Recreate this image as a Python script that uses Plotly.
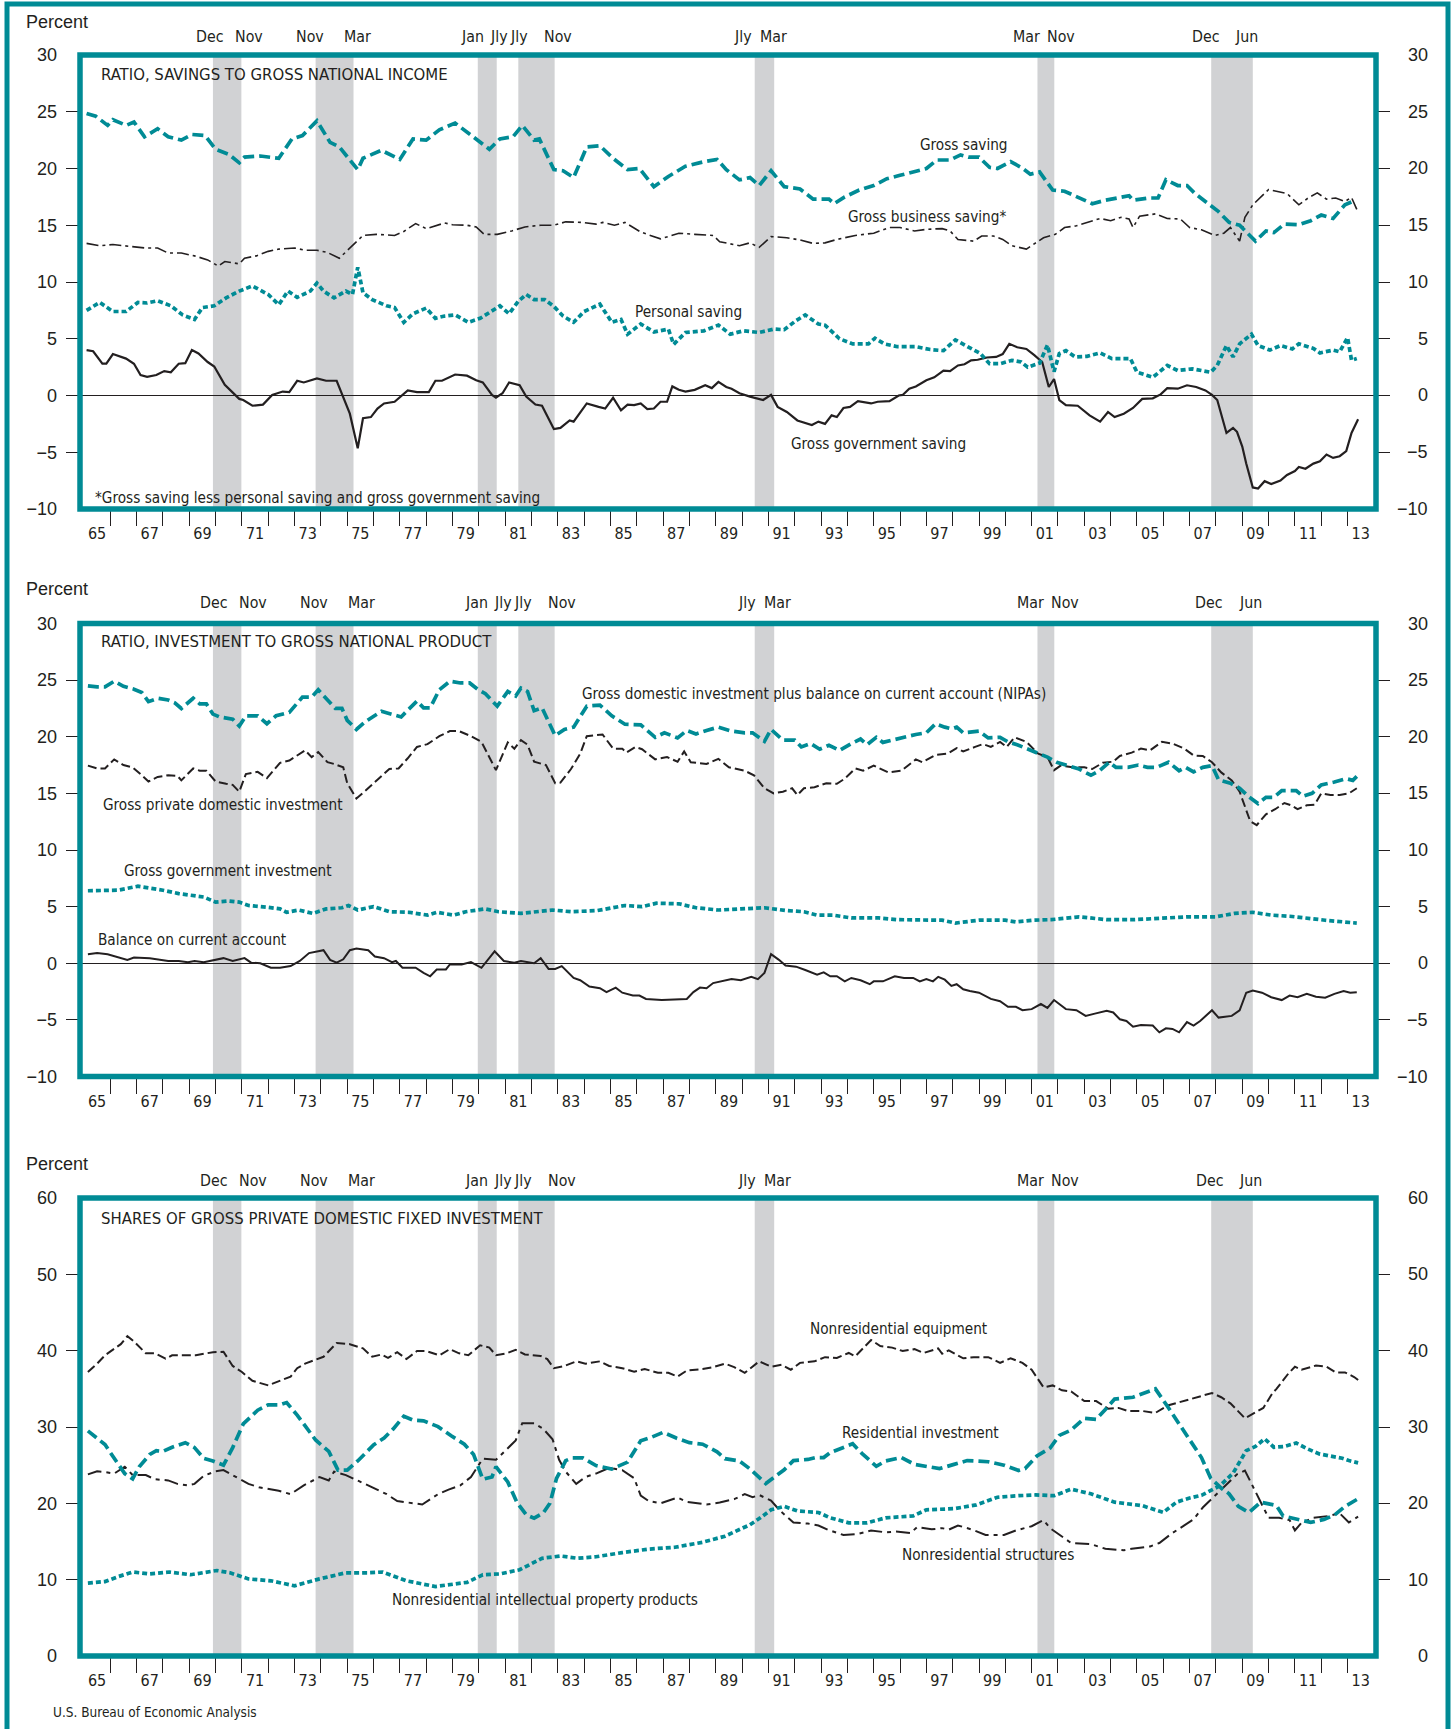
import plotly.graph_objects as go

W, H = 1453, 1729
TEAL = "#008B95"
GRAY = "#D1D2D4"
TXT = "#231F20"
NARROW = "Liberation Sans Narrow, Arial Narrow, DejaVu Sans Condensed, sans-serif"
REG = "Liberation Sans, Arial, sans-serif"

# ---------------- data (decimal year, percent) ----------------
recessions = [(1969.9, 1970.98), (1973.8, 1975.24), (1979.96, 1980.68), (1981.5, 1982.88),
              (1990.48, 1991.22), (2001.22, 2001.86), (2007.82, 2009.4)]
month_labels = [("Dec", 1969.79), ("Nov", 1971.27), ("Nov", 1973.60), ("Mar", 1975.39),
                ("Jan", 1979.77), ("Jly", 1980.76), ("Jly", 1981.54), ("Nov", 1983.02),
                ("Jly", 1990.05), ("Mar", 1991.21), ("Mar", 2000.81), ("Nov", 2002.13),
                ("Dec", 2007.61), ("Jun", 2009.17)]
year_labels = ["65", "67", "69", "71", "73", "75", "77", "79", "81", "83", "85", "87", "89",
               "91", "93", "95", "97", "99", "01", "03", "05", "07", "09", "11", "13"]

gross_saving = [(1965.1,24.85),(1965.45,24.6),(1965.9,23.8),(1966.1,24.3),(1966.6,23.8),(1966.9,24.1),(1967.3,22.8),(1967.8,23.5),(1968.2,22.8),(1968.7,22.5),(1969.1,23.0),(1969.6,22.9),(1970.0,21.7),(1970.5,21.25),(1970.9,20.5),(1971.1,21.0),(1971.7,21.1),(1972.4,20.9),(1972.9,22.6),(1973.3,22.9),(1973.85,24.2),(1974.35,22.3),(1974.7,21.9),(1975.4,19.9),(1975.6,20.9),(1976.3,21.6),(1977.0,20.8),(1977.5,22.6),(1978.0,22.5),(1978.5,23.4),(1979.1,24.0),(1979.7,22.9),(1980.4,21.7),(1980.8,22.6),(1981.3,22.8),(1981.65,23.8),(1982.1,22.5),(1982.3,22.6),(1982.85,19.9),(1983.2,19.8),(1983.6,19.2),(1984.1,21.9),(1984.6,22.0),(1985.1,20.9),(1985.65,19.9),(1986.1,20.0),(1986.65,18.4),(1987.2,19.3),(1987.85,20.2),(1988.55,20.6),(1989.05,20.8),(1989.4,19.9),(1989.9,19.0),(1990.3,19.2),(1990.65,18.5),(1991.1,19.8),(1991.6,18.4),(1992.2,18.2),(1992.7,17.3),(1993.3,17.3),(1993.5,16.9),(1993.9,17.5),(1994.45,18.1),(1995.0,18.5),(1995.5,19.1),(1996.0,19.4),(1996.5,19.7),(1997.0,20.0),(1997.4,20.75),(1997.9,20.75),(1998.3,21.2),(1998.6,21.0),(1999.0,21.0),(1999.4,20.1),(1999.7,20.0),(2000.2,20.6),(2000.6,20.1),(2000.95,19.5),(2001.3,19.7),(2001.8,18.1),(2002.25,18.0),(2002.75,17.5),(2003.3,16.9),(2003.8,17.2),(2004.3,17.4),(2004.7,17.6),(2004.85,17.2),(2005.45,17.4),(2005.8,17.4),(2006.1,19.0),(2006.55,18.5),(2006.9,18.5),(2007.2,17.8),(2007.6,17.1),(2008.1,16.2),(2008.5,15.25),(2008.9,15.0),(2009.5,13.6),(2009.9,14.5),(2010.2,14.35),(2010.6,15.1),(2011.15,15.05),(2011.6,15.4),(2012.0,15.9),(2012.45,15.6),(2012.9,16.8),(2013.3,17.2)]

business_saving = [(1965.1,13.4),(1965.6,13.2),(1966.1,13.3),(1966.6,13.2),(1967.3,13.0),(1967.8,13.0),(1968.2,12.55),(1968.7,12.55),(1969.2,12.3),(1969.7,11.95),(1970.1,11.4),(1970.35,11.8),(1970.9,11.6),(1971.1,12.1),(1971.55,12.3),(1972.0,12.7),(1972.4,12.9),(1973.0,13.0),(1973.4,12.8),(1973.85,12.8),(1974.25,12.6),(1974.7,12.1),(1975.1,13.0),(1975.6,14.1),(1976.1,14.2),(1976.8,14.1),(1977.15,14.45),(1977.6,15.15),(1978.0,14.7),(1978.7,15.2),(1979.0,15.05),(1979.55,15.0),(1979.9,14.85),(1980.2,14.2),(1980.7,14.2),(1981.25,14.5),(1981.75,14.85),(1982.35,15.0),(1982.85,15.0),(1983.3,15.3),(1983.95,15.25),(1984.45,15.1),(1984.7,15.25),(1985.15,15.0),(1985.55,15.25),(1986.15,14.4),(1986.9,13.8),(1987.6,14.3),(1988.2,14.2),(1988.9,14.1),(1989.15,13.55),(1989.9,13.2),(1990.3,13.45),(1990.65,13.05),(1991.1,14.0),(1991.7,13.9),(1992.2,13.7),(1992.7,13.4),(1993.15,13.45),(1993.6,13.75),(1994.3,14.1),(1995.0,14.3),(1995.6,14.8),(1996.0,14.8),(1996.55,14.5),(1997.05,14.65),(1997.6,14.7),(1997.9,14.5),(1998.2,13.75),(1998.8,13.6),(1999.1,14.05),(1999.55,14.05),(1999.9,13.75),(2000.25,13.2),(2000.8,12.9),(2001.05,13.3),(2001.45,13.9),(2001.9,14.2),(2002.25,14.8),(2002.7,14.95),(2003.3,15.4),(2003.6,15.6),(2004.0,15.4),(2004.4,15.7),(2004.7,15.55),(2004.85,14.8),(2005.1,15.8),(2005.7,16.0),(2006.15,15.6),(2006.65,15.55),(2007.0,14.8),(2007.45,14.6),(2007.95,14.1),(2008.3,14.3),(2008.55,14.8),(2008.9,13.6),(2009.1,15.7),(2009.4,16.8),(2010.0,18.15),(2010.45,17.9),(2010.7,17.8),(2011.15,16.8),(2011.5,17.4),(2011.85,17.85),(2012.2,17.3),(2012.55,17.4),(2012.9,17.1),(2013.15,17.45),(2013.35,16.4)]

personal_saving = [(1965.1,7.5),(1965.6,8.2),(1966.1,7.4),(1966.6,7.4),(1967.05,8.2),(1967.4,8.15),(1967.8,8.35),(1968.3,7.9),(1968.75,7.1),(1969.2,6.7),(1969.5,7.75),(1969.95,7.9),(1970.4,8.6),(1970.9,9.2),(1971.4,9.65),(1972.0,8.9),(1972.4,8.0),(1972.75,9.2),(1973.1,8.65),(1973.6,9.2),(1973.85,9.9),(1974.1,9.2),(1974.5,8.6),(1974.95,9.2),(1975.2,8.9),(1975.4,11.3),(1975.6,9.05),(1975.95,8.45),(1976.5,7.9),(1976.8,7.75),(1977.15,6.45),(1977.5,7.2),(1978.0,7.7),(1978.35,6.8),(1978.7,7.0),(1979.1,7.1),(1979.6,6.45),(1980.05,6.8),(1980.5,7.45),(1980.8,7.9),(1981.15,7.2),(1981.5,8.3),(1981.8,8.9),(1982.1,8.45),(1982.5,8.45),(1982.85,7.85),(1983.2,7.0),(1983.6,6.45),(1984.0,7.4),(1984.6,8.05),(1985.05,6.45),(1985.4,6.7),(1985.65,5.4),(1986.15,6.3),(1986.65,5.6),(1987.2,5.85),(1987.4,4.5),(1987.85,5.55),(1988.55,5.7),(1989.1,6.2),(1989.55,5.4),(1990.05,5.7),(1990.65,5.55),(1991.2,5.85),(1991.6,5.8),(1992.05,6.6),(1992.4,7.1),(1992.9,6.3),(1993.15,6.2),(1993.7,5.0),(1994.2,4.55),(1994.8,4.55),(1995.05,5.05),(1995.4,4.55),(1995.9,4.3),(1996.6,4.3),(1997.15,4.05),(1997.65,3.95),(1998.1,4.9),(1998.6,4.3),(1999.05,3.7),(1999.4,2.8),(1999.8,2.8),(2000.25,3.1),(2000.6,2.95),(2000.85,2.5),(2001.3,2.85),(2001.6,4.45),(2001.85,2.1),(2002.05,3.7),(2002.3,3.95),(2002.65,3.4),(2003.1,3.45),(2003.6,3.75),(2004.05,3.25),(2004.75,3.25),(2005.0,2.05),(2005.6,1.6),(2006.15,2.65),(2006.55,2.2),(2007.1,2.35),(2007.8,2.05),(2008.05,2.65),(2008.4,4.4),(2008.65,3.4),(2008.9,4.55),(2009.35,5.4),(2009.6,4.4),(2010.05,4.0),(2010.45,4.4),(2010.9,4.1),(2011.15,4.55),(2011.7,4.15),(2011.95,3.75),(2012.45,4.0),(2012.7,3.85),(2013.0,5.1),(2013.15,3.1),(2013.35,3.25)]

government_saving = [(1965.1,4.0),(1965.35,3.9),(1965.7,2.8),(1965.85,2.8),(1966.1,3.65),(1966.6,3.25),(1966.9,2.8),(1967.15,1.8),(1967.4,1.65),(1967.75,1.8),(1968.05,2.15),(1968.3,2.05),(1968.6,2.8),(1968.85,2.85),(1969.1,4.0),(1969.35,3.7),(1969.7,2.95),(1969.95,2.55),(1970.35,0.95),(1970.9,-0.3),(1971.05,-0.4),(1971.4,-0.9),(1971.8,-0.8),(1972.15,0.05),(1972.55,0.35),(1972.8,0.3),(1973.1,1.3),(1973.35,1.15),(1973.85,1.5),(1974.2,1.3),(1974.6,1.3),(1974.85,-0.1),(1975.1,-1.6),(1975.4,-4.65),(1975.6,-2.0),(1975.9,-1.9),(1976.15,-1.15),(1976.4,-0.7),(1976.8,-0.55),(1977.3,0.45),(1977.65,0.3),(1978.1,0.3),(1978.35,1.3),(1978.6,1.3),(1979.1,1.85),(1979.55,1.75),(1979.9,1.35),(1980.15,1.15),(1980.5,0.05),(1980.65,-0.2),(1980.9,0.2),(1981.15,1.15),(1981.55,0.9),(1981.8,-0.1),(1982.15,-0.8),(1982.4,-0.9),(1982.85,-2.95),(1983.1,-2.85),(1983.45,-2.2),(1983.6,-2.3),(1984.1,-0.7),(1984.55,-1.0),(1984.8,-1.15),(1985.1,-0.2),(1985.4,-1.3),(1985.65,-0.8),(1985.9,-0.85),(1986.15,-0.7),(1986.4,-1.2),(1986.65,-1.15),(1986.9,-0.55),(1987.15,-0.55),(1987.35,0.8),(1987.6,0.5),(1987.85,0.35),(1988.2,0.5),(1988.6,0.9),(1988.85,0.65),(1989.1,1.2),(1989.4,0.75),(1989.6,0.6),(1989.9,0.2),(1990.3,-0.1),(1990.8,-0.4),(1991.1,0.05),(1991.35,-1.0),(1991.7,-1.45),(1992.1,-2.2),(1992.65,-2.6),(1992.9,-2.3),(1993.15,-2.5),(1993.4,-1.75),(1993.6,-1.9),(1993.85,-1.1),(1994.1,-1.0),(1994.4,-0.5),(1994.9,-0.7),(1995.15,-0.55),(1995.6,-0.5),(1995.95,0.0),(1996.1,0.05),(1996.35,0.6),(1996.6,0.8),(1997.0,1.35),(1997.3,1.6),(1997.65,2.2),(1997.9,2.15),(1998.2,2.65),(1998.45,2.75),(1998.7,3.1),(1998.95,3.15),(1999.3,3.35),(1999.65,3.4),(1999.9,3.65),(2000.15,4.55),(2000.45,4.25),(2000.8,4.1),(2001.1,3.55),(2001.4,2.95),(2001.65,0.75),(2001.85,1.45),(2002.05,-0.4),(2002.3,-0.85),(2002.75,-0.9),(2003.2,-1.75),(2003.6,-2.3),(2003.9,-1.45),(2004.15,-1.9),(2004.5,-1.6),(2004.85,-1.1),(2005.2,-0.3),(2005.6,-0.25),(2005.9,0.1),(2006.15,0.65),(2006.55,0.6),(2006.9,0.9),(2007.25,0.75),(2007.6,0.45),(2007.85,0.05),(2008.05,-0.4),(2008.2,-1.6),(2008.4,-3.3),(2008.65,-2.85),(2008.8,-3.2),(2009.0,-4.5),(2009.15,-6.0),(2009.4,-8.1),(2009.6,-8.2),(2009.85,-7.55),(2010.1,-7.8),(2010.45,-7.5),(2010.7,-7.0),(2011.0,-6.65),(2011.15,-6.3),(2011.4,-6.45),(2011.7,-6.0),(2011.95,-5.8),(2012.2,-5.2),(2012.45,-5.5),(2012.7,-5.35),(2012.95,-4.9),(2013.15,-3.3),(2013.4,-2.1)]

gdi_plus_ca = [(1965.15,24.5),(1965.5,24.4),(1965.8,24.4),(1966.15,24.9),(1966.5,24.45),(1966.9,24.2),(1967.2,23.9),(1967.45,23.1),(1967.8,23.4),(1968.2,23.25),(1968.45,23.0),(1968.7,22.5),(1969.15,23.4),(1969.4,22.9),(1969.65,22.9),(1969.9,22.0),(1970.15,21.75),(1970.65,21.55),(1970.9,20.95),(1971.15,21.85),(1971.6,21.85),(1971.95,21.15),(1972.3,21.85),(1972.8,22.15),(1973.3,23.5),(1973.65,23.5),(1973.9,24.15),(1974.3,23.1),(1974.55,22.5),(1974.8,22.5),(1975.0,21.45),(1975.35,20.65),(1975.7,21.35),(1976.3,22.25),(1976.7,21.95),(1977.05,21.75),(1977.3,22.35),(1977.65,23.15),(1977.9,22.55),(1978.15,22.55),(1978.5,24.15),(1978.9,24.9),(1979.3,24.75),(1979.65,24.75),(1979.95,24.2),(1980.25,23.8),(1980.7,22.7),(1981.1,24.0),(1981.4,23.6),(1981.6,24.3),(1981.85,24.0),(1982.1,22.3),(1982.4,22.55),(1982.65,21.4),(1982.9,20.1),(1983.25,20.65),(1983.6,20.85),(1984.1,22.7),(1984.6,22.8),(1985.05,21.85),(1985.55,21.1),(1986.15,21.05),(1986.7,19.95),(1987.05,20.35),(1987.55,19.9),(1987.9,20.55),(1988.25,20.25),(1988.65,20.55),(1989.1,20.85),(1989.6,20.5),(1990.1,20.35),(1990.4,20.35),(1990.85,19.6),(1991.1,20.65),(1991.55,19.7),(1992.0,19.7),(1992.25,19.1),(1992.6,19.4),(1992.95,18.9),(1993.3,19.25),(1993.7,18.8),(1994.15,19.4),(1994.5,19.8),(1994.75,19.3),(1995.1,19.95),(1995.35,19.5),(1995.7,19.7),(1996.15,19.95),(1996.6,20.2),(1997.0,20.35),(1997.35,21.15),(1997.7,20.85),(1997.95,20.7),(1998.15,20.85),(1998.4,20.35),(1999.0,20.5),(1999.35,19.9),(1999.8,19.95),(2000.1,19.55),(2000.45,19.3),(2000.8,18.95),(2001.15,18.65),(2001.6,18.2),(2001.95,17.75),(2002.4,17.45),(2002.8,17.15),(2003.25,16.6),(2003.6,17.05),(2003.95,17.75),(2004.2,17.3),(2004.65,17.3),(2005.05,17.5),(2005.4,17.3),(2005.75,17.3),(2006.2,17.75),(2006.6,17.0),(2006.85,17.3),(2007.15,16.9),(2007.5,17.3),(2007.85,17.45),(2008.1,16.2),(2008.55,15.9),(2008.9,15.45),(2009.25,14.7),(2009.6,14.1),(2009.9,14.65),(2010.2,14.65),(2010.5,15.25),(2011.05,15.25),(2011.3,14.75),(2011.65,15.0),(2012.0,15.75),(2012.5,16.0),(2012.95,16.3),(2013.2,16.15),(2013.35,16.5)]

private_investment = [(1965.15,17.45),(1965.5,17.2),(1965.8,17.2),(1966.15,18.0),(1966.5,17.5),(1966.85,17.3),(1967.2,16.6),(1967.45,16.05),(1967.8,16.45),(1968.2,16.6),(1968.55,16.55),(1968.7,16.15),(1969.15,17.2),(1969.4,17.0),(1969.65,17.0),(1970.0,16.05),(1970.4,15.85),(1970.65,15.75),(1970.9,15.15),(1971.15,16.7),(1971.6,16.9),(1971.95,16.35),(1972.45,17.7),(1972.8,17.9),(1973.4,18.8),(1973.65,18.2),(1973.9,18.65),(1974.25,17.75),(1974.5,17.6),(1974.85,17.3),(1975.0,15.9),(1975.35,14.55),(1975.7,15.25),(1976.3,16.5),(1976.6,17.15),(1976.95,17.2),(1977.3,18.1),(1977.65,19.1),(1978.05,19.35),(1978.5,20.05),(1978.9,20.5),(1979.25,20.5),(1979.7,20.05),(1980.1,19.55),(1980.65,17.05),(1981.1,19.5),(1981.35,18.95),(1981.6,19.7),(1981.85,19.3),(1982.1,17.8),(1982.55,17.5),(1982.9,15.9),(1983.1,15.95),(1983.5,17.15),(1983.85,18.5),(1984.1,20.05),(1984.7,20.2),(1985.1,18.95),(1985.45,18.95),(1985.6,18.6),(1985.95,19.1),(1986.2,18.9),(1986.7,18.0),(1987.15,18.2),(1987.55,17.8),(1987.8,18.7),(1988.05,17.75),(1988.65,17.6),(1989.1,18.05),(1989.5,17.3),(1990.1,17.0),(1990.45,16.6),(1990.85,15.45),(1991.2,15.0),(1991.55,15.15),(1991.9,15.45),(1992.1,14.85),(1992.35,15.45),(1992.75,15.55),(1993.2,15.9),(1993.6,15.85),(1993.9,16.3),(1994.3,17.2),(1994.6,17.0),(1995.0,17.45),(1995.55,16.85),(1996.05,17.0),(1996.6,18.0),(1996.85,17.75),(1997.35,18.4),(1997.8,18.5),(1998.15,19.0),(1998.4,18.7),(1998.85,19.1),(1999.15,19.35),(1999.45,19.1),(1999.8,19.55),(2000.05,19.1),(2000.35,19.95),(2000.8,19.55),(2001.25,18.5),(2001.6,18.2),(2001.85,17.05),(2002.1,17.45),(2002.55,17.3),(2003.0,17.3),(2003.3,17.15),(2003.7,17.7),(2004.1,17.8),(2004.35,18.3),(2004.8,18.6),(2005.15,18.95),(2005.5,18.8),(2005.95,19.55),(2006.35,19.4),(2006.8,18.95),(2007.15,18.35),(2007.5,18.3),(2007.85,17.75),(2008.2,16.85),(2008.6,16.15),(2008.9,15.15),(2009.15,13.5),(2009.3,12.55),(2009.55,12.2),(2009.9,13.15),(2010.25,13.6),(2010.6,14.15),(2010.85,13.95),(2011.1,13.6),(2011.45,13.95),(2011.75,14.0),(2012.0,15.0),(2012.35,14.85),(2012.7,14.85),(2013.05,15.0),(2013.35,15.45)]

government_investment = [(1965.15,6.4),(1965.8,6.4),(1966.3,6.45),(1967.05,6.8),(1967.6,6.6),(1968.0,6.45),(1968.6,6.15),(1969.2,6.0),(1969.55,5.85),(1970.0,5.4),(1970.5,5.5),(1970.9,5.4),(1971.25,5.1),(1971.95,4.95),(1972.45,4.8),(1972.7,4.5),(1973.15,4.7),(1973.7,4.4),(1974.2,4.8),(1974.8,4.9),(1975.05,5.1),(1975.4,4.7),(1976.0,5.0),(1976.6,4.55),(1977.35,4.5),(1978.05,4.25),(1978.4,4.5),(1979.05,4.25),(1979.5,4.55),(1980.25,4.8),(1980.75,4.55),(1981.6,4.4),(1982.1,4.55),(1982.8,4.7),(1983.5,4.55),(1984.5,4.65),(1985.55,5.1),(1986.2,5.0),(1986.75,5.3),(1987.6,5.25),(1988.25,4.9),(1989.1,4.7),(1989.95,4.8),(1990.85,4.9),(1991.7,4.65),(1992.35,4.55),(1992.85,4.25),(1993.45,4.25),(1994.15,4.0),(1995.2,4.0),(1995.9,3.85),(1996.9,3.8),(1997.6,3.8),(1998.1,3.55),(1999.0,3.8),(2000.0,3.8),(2000.4,3.65),(2001.05,3.8),(2001.75,3.85),(2002.8,4.1),(2003.85,3.85),(2004.9,3.85),(2005.95,4.0),(2006.95,4.1),(2008.0,4.1),(2008.7,4.4),(2009.4,4.5),(2010.1,4.25),(2010.8,4.15),(2011.45,3.95),(2012.15,3.8),(2012.85,3.65),(2013.35,3.55)]

current_account = [(1965.15,0.8),(1965.5,0.9),(1965.9,0.8),(1966.35,0.5),(1966.65,0.3),(1966.9,0.5),(1967.5,0.45),(1968.2,0.2),(1968.6,0.2),(1968.95,0.1),(1969.2,0.2),(1969.55,0.1),(1970.0,0.35),(1970.3,0.45),(1970.65,0.2),(1971.1,0.45),(1971.35,0.05),(1971.7,0.0),(1972.1,-0.4),(1972.45,-0.4),(1972.85,-0.25),(1973.2,0.2),(1973.55,0.9),(1974.1,1.15),(1974.35,0.3),(1974.6,0.05),(1974.85,0.35),(1975.1,1.15),(1975.35,1.3),(1975.8,1.15),(1976.05,0.6),(1976.4,0.45),(1976.7,0.1),(1976.85,0.2),(1977.1,-0.4),(1977.6,-0.4),(1977.9,-0.85),(1978.15,-1.15),(1978.4,-0.55),(1978.75,-0.55),(1978.9,-0.1),(1979.35,-0.1),(1979.7,0.1),(1980.1,-0.4),(1980.6,1.05),(1980.95,0.2),(1981.35,0.05),(1981.6,0.2),(1982.1,0.0),(1982.35,0.45),(1982.65,-0.5),(1982.9,-0.5),(1983.15,-0.25),(1983.6,-1.3),(1983.85,-1.5),(1984.2,-2.05),(1984.6,-2.2),(1984.85,-2.55),(1985.2,-2.15),(1985.45,-2.6),(1985.85,-2.85),(1986.1,-2.85),(1986.35,-3.15),(1986.95,-3.25),(1987.9,-3.15),(1988.15,-2.55),(1988.4,-2.15),(1988.65,-2.2),(1988.9,-1.75),(1989.25,-1.6),(1989.6,-1.4),(1989.95,-1.5),(1990.35,-1.2),(1990.6,-1.4),(1990.85,-0.85),(1991.1,0.8),(1991.4,0.3),(1991.65,-0.2),(1992.05,-0.3),(1992.4,-0.6),(1992.85,-1.0),(1993.1,-0.8),(1993.35,-1.15),(1993.6,-1.15),(1993.9,-1.6),(1994.15,-1.3),(1994.5,-1.5),(1994.85,-1.85),(1995.0,-1.6),(1995.35,-1.6),(1995.8,-1.15),(1996.15,-1.3),(1996.5,-1.3),(1996.75,-1.6),(1997.0,-1.4),(1997.25,-1.6),(1997.45,-1.2),(1997.7,-1.45),(1997.95,-2.0),(1998.15,-1.85),(1998.4,-2.3),(1998.65,-2.45),(1999.0,-2.6),(1999.45,-3.15),(1999.8,-3.35),(2000.1,-3.85),(2000.4,-3.85),(2000.65,-4.15),(2001.0,-4.05),(2001.35,-3.6),(2001.6,-3.95),(2001.85,-3.25),(2002.3,-4.05),(2002.7,-4.15),(2003.05,-4.65),(2003.4,-4.45),(2003.85,-4.2),(2004.1,-4.35),(2004.35,-4.95),(2004.6,-5.1),(2004.85,-5.6),(2005.15,-5.45),(2005.6,-5.5),(2005.85,-6.1),(2006.1,-5.75),(2006.35,-5.8),(2006.6,-6.1),(2006.9,-5.2),(2007.15,-5.5),(2007.4,-5.1),(2007.85,-4.15),(2008.1,-4.8),(2008.6,-4.65),(2008.9,-4.15),(2009.15,-2.6),(2009.4,-2.4),(2009.75,-2.6),(2010.1,-3.0),(2010.5,-3.25),(2010.8,-2.85),(2011.1,-3.0),(2011.45,-2.7),(2011.8,-2.95),(2012.15,-3.05),(2012.5,-2.7),(2012.85,-2.45),(2013.1,-2.6),(2013.35,-2.55)]

equipment = [(1965.15,37.2),(1965.5,38.3),(1965.8,39.4),(1966.15,40.3),(1966.4,40.85),(1966.65,41.9),(1966.9,41.2),(1967.35,39.65),(1967.7,39.65),(1968.1,38.95),(1968.35,39.4),(1969.25,39.4),(1969.9,39.8),(1970.3,39.85),(1970.65,38.0),(1971.0,37.2),(1971.4,36.05),(1972.0,35.45),(1972.45,36.05),(1972.85,36.6),(1973.1,37.7),(1973.4,38.3),(1974.1,39.2),(1974.6,41.0),(1975.1,40.85),(1975.6,40.3),(1975.95,39.2),(1976.3,39.5),(1976.55,39.05),(1976.9,39.8),(1977.25,38.9),(1977.65,39.95),(1978.0,39.95),(1978.5,39.4),(1978.9,40.2),(1979.25,39.65),(1979.6,39.4),(1980.05,40.7),(1980.4,40.4),(1980.65,39.4),(1981.05,39.65),(1981.4,40.1),(1981.75,39.5),(1982.35,39.3),(1982.6,38.9),(1982.85,37.7),(1983.25,38.0),(1983.7,38.6),(1984.05,38.3),(1984.6,38.6),(1984.95,38.0),(1985.45,37.7),(1985.9,37.25),(1986.3,37.6),(1986.8,37.1),(1987.2,37.1),(1987.55,36.6),(1987.9,37.4),(1988.5,37.6),(1988.9,37.85),(1989.35,38.3),(1989.7,37.85),(1990.1,37.1),(1990.65,38.6),(1991.1,37.9),(1991.5,38.15),(1991.85,37.5),(1992.2,38.4),(1992.75,38.6),(1993.15,39.15),(1993.6,39.05),(1994.05,39.7),(1994.3,39.25),(1994.9,41.4),(1995.25,40.6),(1995.7,40.4),(1996.1,39.95),(1996.55,40.2),(1996.9,39.7),(1997.45,40.3),(1997.6,39.6),(1997.85,40.05),(1998.4,39.0),(1998.8,39.15),(1999.35,39.15),(1999.8,38.4),(2000.2,39.0),(2000.65,38.4),(2001.0,37.5),(2001.45,35.2),(2001.8,35.45),(2002.15,34.8),(2002.5,34.65),(2003.0,33.4),(2003.45,33.4),(2003.9,32.4),(2004.3,32.5),(2004.65,32.1),(2005.2,32.1),(2005.7,31.85),(2006.2,32.85),(2006.75,33.4),(2007.25,33.9),(2007.85,34.45),(2008.2,33.9),(2008.55,33.1),(2009.1,31.15),(2009.45,31.85),(2009.8,32.5),(2010.15,34.45),(2010.3,35.0),(2010.75,37.0),(2011.0,37.9),(2011.25,37.5),(2011.8,38.05),(2012.2,37.9),(2012.55,37.15),(2012.9,37.15),(2013.25,36.55),(2013.5,35.9)]

residential = [(1965.15,29.5),(1965.5,28.6),(1965.8,27.7),(1966.15,25.9),(1966.55,23.9),(1966.85,23.2),(1967.1,24.8),(1967.5,26.4),(1967.75,26.9),(1968.0,26.8),(1968.35,27.35),(1968.85,27.95),(1969.2,27.3),(1969.55,25.9),(1969.9,25.55),(1970.3,25.0),(1970.65,27.3),(1971.05,30.4),(1971.6,32.2),(1972.0,32.9),(1972.45,32.9),(1972.7,33.2),(1973.1,31.55),(1973.8,28.3),(1974.3,26.8),(1974.65,24.35),(1975.0,24.35),(1975.4,25.55),(1976.0,27.65),(1976.4,28.55),(1976.75,29.75),(1977.15,31.4),(1977.5,30.9),(1977.9,30.8),(1978.45,30.05),(1978.95,28.85),(1979.45,27.75),(1979.8,26.4),(1980.15,23.15),(1980.5,23.45),(1980.65,24.8),(1981.1,22.8),(1981.45,20.1),(1981.8,18.5),(1982.1,18.05),(1982.45,18.75),(1982.7,20.0),(1982.95,23.25),(1983.3,25.6),(1983.55,25.95),(1983.95,25.95),(1984.45,24.95),(1985.05,24.5),(1985.65,25.4),(1986.15,28.2),(1986.55,28.65),(1987.0,29.3),(1987.5,28.55),(1988.0,27.95),(1988.5,27.75),(1989.05,26.75),(1989.35,25.85),(1989.9,25.55),(1990.3,24.5),(1990.6,23.5),(1990.9,22.6),(1991.25,23.5),(1991.6,24.4),(1991.95,25.6),(1992.5,25.75),(1992.8,26.0),(1993.1,26.0),(1993.35,26.65),(1993.85,27.35),(1994.2,27.8),(1994.55,26.55),(1995.1,24.85),(1995.45,25.55),(1996.05,26.0),(1996.55,25.1),(1997.1,24.85),(1997.5,24.55),(1998.05,25.1),(1998.55,25.6),(1999.35,25.45),(1999.95,25.0),(2000.5,24.3),(2000.75,24.55),(2001.2,26.2),(2001.7,27.25),(2002.05,28.9),(2002.5,29.6),(2003.0,31.15),(2003.45,31.0),(2003.8,32.3),(2004.15,33.65),(2004.85,33.9),(2005.35,34.55),(2005.7,35.0),(2006.15,32.75),(2006.55,30.7),(2007.0,28.45),(2007.45,26.0),(2007.8,23.3),(2008.2,22.0),(2008.5,21.25),(2008.85,19.6),(2009.25,18.8),(2009.7,20.15),(2010.05,19.9),(2010.3,19.7),(2010.55,18.35),(2010.9,18.1),(2011.6,17.5),(2012.1,17.9),(2012.5,18.45),(2012.9,19.6),(2013.25,20.35),(2013.5,20.8)]

structures = [(1965.15,23.8),(1965.5,24.2),(1965.8,24.1),(1966.15,23.9),(1966.55,24.8),(1966.85,23.7),(1967.35,23.7),(1967.7,23.15),(1968.2,23.0),(1968.55,22.55),(1968.95,22.35),(1969.2,22.55),(1969.55,23.6),(1970.0,24.2),(1970.3,24.35),(1970.8,23.45),(1971.25,22.55),(1971.65,22.1),(1972.0,21.9),(1972.4,21.65),(1972.85,21.2),(1973.35,22.35),(1973.95,23.45),(1974.3,23.0),(1974.5,24.15),(1974.95,23.7),(1975.45,22.9),(1975.95,22.1),(1976.5,21.2),(1976.9,20.3),(1977.35,20.1),(1977.85,19.85),(1978.45,21.2),(1978.85,21.8),(1979.3,22.35),(1979.7,23.45),(1980.15,25.85),(1980.65,25.7),(1981.05,27.05),(1981.4,28.25),(1981.65,30.5),(1982.1,30.5),(1982.45,29.75),(1982.8,28.4),(1983.05,25.7),(1983.3,24.15),(1983.7,22.55),(1984.05,23.45),(1984.45,23.9),(1984.95,24.65),(1985.45,24.35),(1985.9,23.3),(1986.15,21.0),(1986.45,20.3),(1986.9,20.0),(1987.55,20.75),(1987.9,20.2),(1988.65,19.85),(1989.15,20.1),(1989.7,20.55),(1990.1,21.2),(1990.4,20.8),(1990.65,21.1),(1991.1,20.35),(1991.45,19.0),(1991.95,17.5),(1992.5,17.35),(1992.9,17.1),(1993.25,16.55),(1993.85,15.85),(1994.4,16.0),(1994.9,16.45),(1995.45,16.2),(1995.85,16.3),(1996.4,16.1),(1996.65,16.9),(1997.2,16.6),(1997.6,16.75),(1997.85,16.55),(1998.2,17.1),(1998.75,16.55),(1999.25,15.85),(1999.95,15.85),(2000.4,16.45),(2001.0,17.0),(2001.45,17.8),(2001.7,16.75),(2002.05,15.85),(2002.5,14.8),(2003.25,14.65),(2003.8,14.05),(2004.5,13.85),(2004.8,14.05),(2005.5,14.35),(2005.85,14.8),(2006.3,16.0),(2006.75,17.0),(2007.15,17.9),(2007.5,19.45),(2007.95,21.0),(2008.4,22.5),(2008.8,23.8),(2009.1,24.3),(2009.35,22.6),(2009.65,20.6),(2010.0,18.1),(2010.4,18.1),(2010.8,17.8),(2011.0,16.45),(2011.25,17.45),(2011.7,18.1),(2012.3,18.35),(2012.7,18.7),(2013.05,17.5),(2013.4,18.25)]

intellectual_property = [(1965.15,9.55),(1965.8,9.75),(1966.3,10.4),(1966.85,11.0),(1967.5,10.75),(1968.25,11.0),(1969.05,10.65),(1970.05,11.2),(1970.55,10.9),(1971.25,10.1),(1972.1,9.85),(1973.0,9.2),(1973.95,10.1),(1974.95,10.9),(1975.8,10.9),(1976.35,11.0),(1977.25,9.85),(1978.35,9.1),(1979.55,9.65),(1980.15,10.65),(1980.8,10.75),(1981.55,11.3),(1982.4,12.8),(1983.1,13.1),(1983.75,12.8),(1984.45,13.0),(1985.45,13.55),(1986.45,14.0),(1987.45,14.25),(1988.5,14.9),(1989.35,15.7),(1990.0,16.7),(1990.3,17.2),(1990.65,18.0),(1991.1,19.15),(1991.6,19.6),(1992.1,19.0),(1992.9,18.8),(1993.35,18.1),(1994.05,17.45),(1994.75,17.45),(1995.45,18.1),(1996.5,18.35),(1997.0,19.15),(1998.05,19.3),(1998.9,19.8),(1999.7,20.8),(2000.5,21.0),(2001.15,21.1),(2001.85,21.0),(2002.5,21.85),(2003.25,21.25),(2004.15,20.15),(2005.2,19.7),(2006.0,18.8),(2006.5,20.15),(2007.0,20.7),(2007.45,21.05),(2008.15,22.3),(2008.65,23.95),(2009.15,26.9),(2009.5,27.45),(2009.85,28.45),(2010.2,27.35),(2010.6,27.45),(2011.05,27.9),(2011.5,27.1),(2011.95,26.45),(2012.45,26.1),(2012.8,25.9),(2013.05,25.6),(2013.4,25.3)]

# ---------------- layout helpers ----------------
def xp(px):
    return px / W

def yp(px):
    return 1 - px / H

X0, X1 = 80, 1376
XR = [1964.85, 2014.08]
panels = [
    dict(top=55, bot=509, yr=[-10, 30], step=5, title="RATIO, SAVINGS TO GROSS NATIONAL INCOME",
         title_y=74, pct_y=22, month_y=36.5, shift=0.0, zero=True),
    dict(top=623.5, bot=1076.5, yr=[-10, 30], step=5, title="RATIO, INVESTMENT TO GROSS NATIONAL PRODUCT",
         title_y=642, pct_y=589, month_y=602.5, shift=0.14, zero=True),
    dict(top=1198, bot=1656, yr=[0, 60], step=10, title="SHARES OF GROSS PRIVATE DOMESTIC FIXED INVESTMENT",
         title_y=1218, pct_y=1164, month_y=1180, shift=0.15, zero=False),
]

fig = go.Figure()

def add_line(pairs, panel, color, width, dash, right=False):
    idx = panel + 1
    yname = "y%d" % (idx + 3 if right else idx)
    yname = "y" if yname == "y1" else yname
    xname = "x" if idx == 1 else "x%d" % idx
    fig.add_trace(go.Scatter(x=[p[0] for p in pairs], y=[p[1] for p in pairs], mode="lines",
                             line=dict(color=color, width=width, dash=dash),
                             xaxis=xname, yaxis=yname, showlegend=False, hoverinfo="skip"))

BLK = "#231F20"
# panel 1
add_line(business_saving, 0, BLK, 1.6, "12px,4px,3px,4px")
add_line(government_saving, 0, BLK, 2.2, "solid")
add_line(gross_saving, 0, TEAL, 3.7, "11px,5px")
add_line(personal_saving, 0, TEAL, 3.7, "5px,3px", right=True)
# panel 2
add_line(private_investment, 1, BLK, 2.0, "9px,4px")
add_line(current_account, 1, BLK, 2.0, "solid")
add_line(gdi_plus_ca, 1, TEAL, 3.7, "11px,5px")
add_line(government_investment, 1, TEAL, 3.7, "5px,3px", right=True)
# panel 3
add_line(equipment, 2, BLK, 2.0, "9px,4px")
add_line(structures, 2, BLK, 2.0, "14px,5px,4px,5px")
add_line(residential, 2, TEAL, 3.7, "11px,5px")
add_line(intellectual_property, 2, TEAL, 3.7, "5px,3px", right=True)

layout = dict(template="none", width=W, height=H,
              margin=dict(l=0, r=0, t=0, b=0, pad=0, autoexpand=False),
              paper_bgcolor="white", plot_bgcolor="white", showlegend=False)
shapes = []
annotations = []

LABEL_SIZE = 15.2
for i, p in enumerate(panels):
    idx = i + 1
    xkey = "xaxis" if idx == 1 else "xaxis%d" % idx
    ykey = "yaxis" if idx == 1 else "yaxis%d" % idx
    rkey = "yaxis%d" % (idx + 3)
    xname = "x" if idx == 1 else "x%d" % idx
    yname = "y" if idx == 1 else "y%d" % idx
    lo, hi = p["yr"]
    vals = list(range(lo, hi + 1, p["step"]))
    inner = vals[1:-1]
    ydom = [yp(p["bot"]), yp(p["top"])]
    layout[xkey] = dict(domain=[xp(X0), xp(X1)], range=XR, anchor=yname, showgrid=False,
                        automargin=False, zeroline=False, showline=False, tickmode="array",
                        tickvals=[1965.5 + 2 * k for k in range(len(year_labels))],
                        ticktext=year_labels, ticks="", ticklabelstandoff=13,
                        tickfont=dict(family=NARROW, size=16, color=TXT),
                        minor=dict(tickmode="array", tickvals=list(range(1966, 2014)),
                                   ticks="outside", ticklen=16, tickwidth=1.3, tickcolor=BLK))
    layout[ykey] = dict(domain=ydom, range=p["yr"], anchor=xname, showgrid=False, automargin=False,
                        zeroline=p["zero"], zerolinecolor=BLK, zerolinewidth=1.1, showline=False,
                        tickmode="array", tickvals=vals, ticktext=[str(v).replace("-", "\u2212") for v in vals],
                        ticks="", ticklabelstandoff=22,
                        tickfont=dict(family=REG, size=18, color=TXT),
                        minor=dict(tickmode="array", tickvals=inner, ticks="outside", ticklen=13,
                                   tickwidth=1.3, tickcolor=BLK))
    layout[rkey] = dict(overlaying=yname, side="right", anchor=xname, range=p["yr"], showgrid=False,
                        automargin=False, zeroline=False, showline=False, tickmode="array",
                        tickvals=inner, ticks="outside", ticklen=13, tickwidth=1.3, tickcolor=BLK,
                        showticklabels=False)
    # right tick labels
    for v in vals:
        annotations.append(dict(x=xp(1430), y=v, xref="paper", yref=yname, xanchor="right",
                                yanchor="middle", showarrow=False,
                                text=str(v).replace("-", "\u2212"),
                                font=dict(family=REG, size=18, color=TXT)))
    # recession shading
    for (a, b) in recessions:
        shapes.append(dict(type="rect", xref=xname, yref="%s domain" % yname, x0=a, x1=b, y0=0, y1=1,
                           fillcolor=GRAY, line=dict(width=0), layer="below"))
    # panel frame
    shapes.append(dict(type="rect", xref="paper", yref="paper", x0=xp(X0), x1=xp(X1),
                       y0=ydom[0], y1=ydom[1], line=dict(color=TEAL, width=5.5), layer="above"))
    # month labels
    for (lab, xv) in month_labels:
        annotations.append(dict(x=xv + p["shift"], y=yp(p["month_y"]), xref=xname, yref="paper",
                                xanchor="center", yanchor="middle", showarrow=False, text=lab,
                                font=dict(family=NARROW, size=15.8, color=TXT)))
    annotations.append(dict(x=xp(24), y=yp(p["pct_y"]), xref="paper", yref="paper", xanchor="left",
                            yanchor="middle", showarrow=False, text="Percent",
                            font=dict(family=REG, size=18, color=TXT)))
    annotations.append(dict(x=xp(99), y=yp(p["title_y"]), xref="paper", yref="paper", xanchor="left",
                            yanchor="middle", showarrow=False, text=p["title"],
                            font=dict(family=NARROW, size=16.6, color=TXT)))

series_labels = [
    ("Gross saving", 918, 145), ("Gross business saving*", 846, 217),
    ("Personal saving", 633, 312), ("Gross government saving", 789, 444),
    ("*Gross saving less personal saving and gross government saving", 93, 498),
    ("Gross domestic investment plus balance on current account (NIPAs)", 580, 694),
    ("Gross private domestic investment", 101, 805), ("Gross government investment", 122, 871),
    ("Balance on current account", 96, 940),
    ("Nonresidential equipment", 808, 1329), ("Residential investment", 840, 1433),
    ("Nonresidential structures", 900, 1555),
    ("Nonresidential intellectual property products", 390, 1600),
]
for (t, x, y) in series_labels:
    annotations.append(dict(x=xp(x), y=yp(y), xref="paper", yref="paper", xanchor="left",
                            yanchor="middle", showarrow=False, text=t,
                            font=dict(family=NARROW, size=LABEL_SIZE, color=TXT)))
annotations.append(dict(x=xp(51), y=yp(1712), xref="paper", yref="paper", xanchor="left",
                        yanchor="middle", showarrow=False, text="U.S. Bureau of Economic Analysis",
                        font=dict(family=NARROW, size=13.5, color=TXT)))

# outer frame
shapes.append(dict(type="rect", xref="paper", yref="paper", x0=xp(7), x1=xp(1448), y0=-0.02, y1=yp(4),
                   line=dict(color=TEAL, width=5), layer="above"))

layout["shapes"] = shapes
layout["annotations"] = annotations
fig.update_layout(**layout)

PAGE_JS = (
    "var gd=document.getElementById('{plot_id}');"
    "var de=document.documentElement, bd=document.body;"
    "de.style.margin='0';de.style.padding='0';de.style.overflow='hidden';"
    "bd.style.margin='0';bd.style.padding='0';bd.style.overflow='hidden';"
    "gd.style.position='absolute';gd.style.top='0px';gd.style.left='0px';"
)
fig.write_html("out.html", config={"displayModeBar": False}, post_script=PAGE_JS)
